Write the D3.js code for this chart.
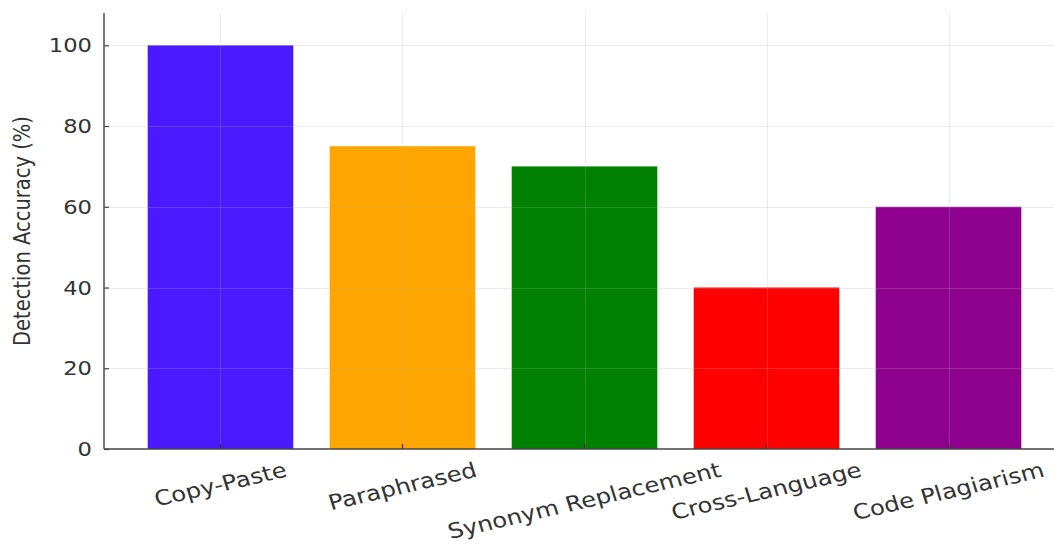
<!DOCTYPE html>
<html>
<head>
<meta charset="utf-8">
<script src="https://cdn.jsdelivr.net/npm/d3@7"></script>
<style>
  html, body { margin: 0; padding: 0; background: #ffffff; }
  svg { display: block; font-family: "DejaVu Sans", sans-serif; }
</style>
</head>
<body>
<svg id="chart" width="1054" height="548"></svg>
<script>
// Detection accuracy by plagiarism type
const categories = ["Copy-Paste", "Paraphrased", "Synonym Replacement", "Cross-Language", "Code Plagiarism"];
const accuracy = [100, 75, 70, 40, 60];
const barColors = ["#4B19FF", "#FFA500", "#008000", "#FF0000", "#8E008E"];
const yTicks = [0, 20, 40, 60, 80, 100];
const yLabel = "Detection Accuracy (%)";

const W = 1054, H = 548;
const plot = { left: 104, right: 1065, top: 13, bottom: 449 };
const textStretch = 1.16;   // glyphs are drawn slightly wide
const tickFont = 19.5, xTickFont = 21, labelFont = 19.5;

const svg = d3.select("#chart");

const x = d3.scaleBand()
  .domain(categories)
  .range([plot.left, plot.right])
  .paddingInner(0.2)
  .paddingOuter(0.24);

const y = d3.scaleLinear()
  .domain([0, 108])
  .range([plot.bottom, plot.top]);

// bars
svg.append("g")
  .selectAll("rect")
  .data(categories)
  .join("rect")
  .attr("x", d => x(d))
  .attr("width", x.bandwidth())
  .attr("y", (d, i) => y(accuracy[i]))
  .attr("height", (d, i) => y(0) - y(accuracy[i]))
  .attr("fill", (d, i) => barColors[i]);

// faint grid drawn over the bars
const grid = svg.append("g")
  .attr("stroke", "#b0b0b0")
  .attr("stroke-opacity", 0.25)
  .attr("stroke-width", 1);
grid.selectAll("line.h")
  .data(yTicks.filter(t => t > 0))
  .join("line")
  .attr("class", "h")
  .attr("x1", plot.left).attr("x2", W)
  .attr("y1", d => Math.round(y(d)) + 0.5)
  .attr("y2", d => Math.round(y(d)) + 0.5);
grid.selectAll("line.v")
  .data(categories)
  .join("line")
  .attr("class", "v")
  .attr("x1", d => Math.round(x(d) + x.bandwidth() / 2) + 0.5)
  .attr("x2", d => Math.round(x(d) + x.bandwidth() / 2) + 0.5)
  .attr("y1", plot.top).attr("y2", plot.bottom);

// y axis (ticks point inward)
const yAxis = svg.append("g")
  .attr("transform", `translate(${plot.left},0)`)
  .call(d3.axisRight(y).tickValues(yTicks).tickSize(5).tickFormat(""));
yAxis.select(".domain").remove();
yAxis.selectAll(".tick line").attr("stroke", "#444").attr("stroke-width", 1.2);

svg.append("line")
  .attr("x1", plot.left).attr("x2", plot.left)
  .attr("y1", plot.top).attr("y2", plot.bottom)
  .attr("stroke", "#555").attr("stroke-width", 1.6);

svg.append("g")
  .selectAll("text")
  .data(yTicks)
  .join("text")
  .attr("transform", d => `translate(${plot.left - 12},${y(d)}) scale(${textStretch},1)`)
  .attr("text-anchor", "end")
  .attr("dy", "0.36em")
  .attr("font-size", tickFont)
  .attr("fill", "#333")
  .text(d => d);

// x axis (ticks point inward)
const xAxis = svg.append("g")
  .attr("transform", `translate(0,${plot.bottom})`)
  .call(d3.axisTop(x).tickSize(5).tickFormat(""));
xAxis.select(".domain").remove();
xAxis.selectAll(".tick line").attr("stroke", "#333").attr("stroke-width", 1.2);

svg.append("line")
  .attr("x1", plot.left).attr("x2", W)
  .attr("y1", plot.bottom).attr("y2", plot.bottom)
  .attr("stroke", "#444").attr("stroke-width", 1.6);

// rotated category labels, centred under each bar
const angle = 15, rad = angle * Math.PI / 180;
const xLabels = svg.append("g")
  .selectAll("text")
  .data(categories)
  .join("text")
  .attr("text-anchor", "middle")
  .attr("dy", "0.32em")
  .attr("font-size", xTickFont)
  .attr("fill", "#333")
  .text(d => d);
xLabels.attr("transform", function(d) {
  const L = this.getComputedTextLength();
  const h = xTickFont * 1.16;
  const cy = plot.bottom + 9 + (L * Math.sin(rad) + h * Math.cos(rad)) / 2;
  const cx = x(d) + x.bandwidth() / 2;
  return `translate(${cx},${cy}) scale(${textStretch},1) rotate(${-angle})`;
});

// y axis title
svg.append("text")
  .attr("transform", `translate(22,${(plot.top + plot.bottom) / 2}) scale(${textStretch},1) rotate(-90)`)
  .attr("text-anchor", "middle")
  .attr("dy", "0.36em")
  .attr("font-size", labelFont)
  .attr("fill", "#333")
  .text(yLabel);
</script>
</body>
</html>
